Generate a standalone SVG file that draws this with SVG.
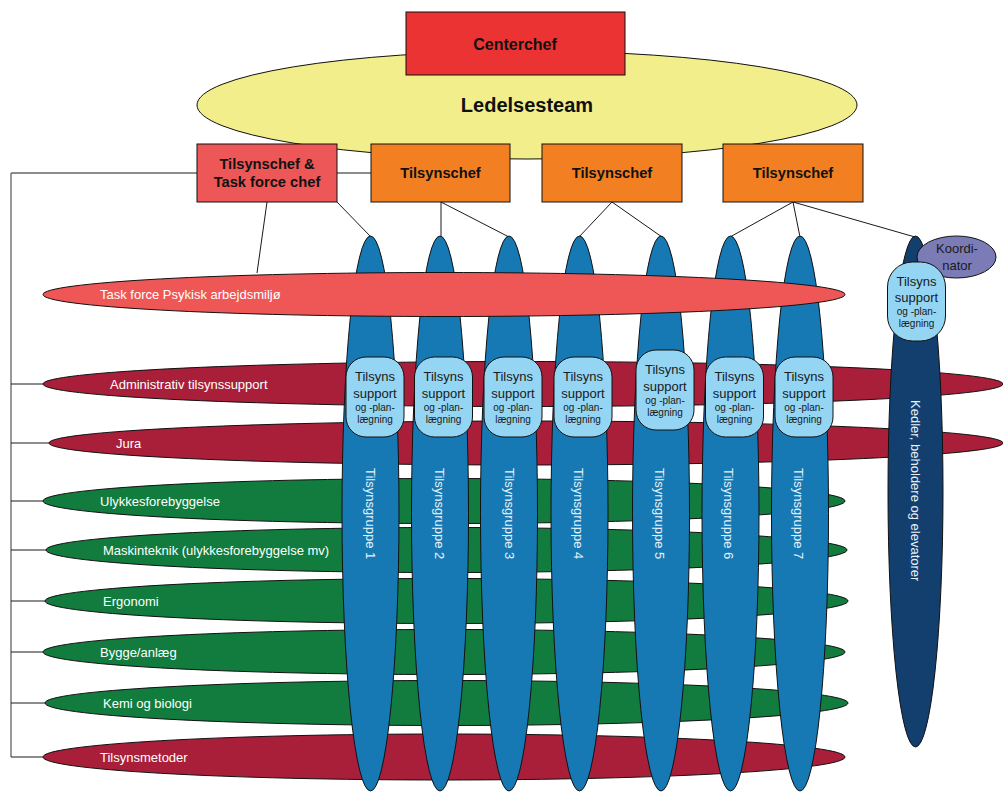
<svg xmlns="http://www.w3.org/2000/svg" width="1003" height="792" viewBox="0 0 1003 792">
  <style>
    .shape { stroke: #111; stroke-width: 1; }
    .lead { fill: #F2EE8B; }
    .center { fill: #EC3333; }
    .taskchef { fill: #EE5757; }
    .chef { fill: #F28022; }
    .crimson { fill: #A91F3A; }
    .green { fill: #127C3E; }
    .salmon { fill: #EF5757; }
    .group { fill: #1779B4; }
    .kedler { fill: #133F6E; }
    .coord { fill: #7B7BB6; }
    .support { fill: #93D5F3; }
    .link { stroke: #1a1a1a; stroke-width: 1; fill: none; }
    .rail { stroke: #777; stroke-width: 1.5; fill: none; }
    text { font-family: "Liberation Sans", Arial, sans-serif; }
    .bold { font-weight: bold; fill: #111; text-anchor: middle; }
    .bar { fill: #fff; font-size: 13px; }
    .vert { fill: #E6F2FA; font-size: 13px; }
    .sup1 { fill: #1a1a1a; font-size: 13px; text-anchor: middle; }
    .sup2 { fill: #1a1a1a; font-size: 10px; text-anchor: middle; }
  </style>

  <!-- management ellipse and head box -->
  <g id="ledelsesteam">
    <ellipse class="shape lead" cx="527" cy="105" rx="330" ry="54"/>
    <text class="bold" x="527" y="112" font-size="20">Ledelsesteam</text>
  </g>
  <g id="centerchef">
    <rect class="shape center" x="406" y="12" width="219" height="63"/>
    <text class="bold" x="515" y="50" font-size="16">Centerchef</text>
  </g>

  <!-- connectors -->
  <g id="connectors">
    <polyline class="link" points="11,173 371,173"/>
    <line class="rail" x1="11" y1="173" x2="11" y2="757"/>
    <line class="link" x1="11" y1="384" x2="43" y2="384"/>
    <line class="link" x1="11" y1="443" x2="49" y2="443"/>
    <line class="link" x1="11" y1="501" x2="43" y2="501"/>
    <line class="link" x1="11" y1="550" x2="46" y2="550"/>
    <line class="link" x1="11" y1="601" x2="45" y2="601"/>
    <line class="link" x1="11" y1="652" x2="43" y2="652"/>
    <line class="link" x1="11" y1="703" x2="45" y2="703"/>
    <line class="link" x1="11" y1="757" x2="43" y2="757"/>
    <line class="link" x1="267" y1="202" x2="257" y2="273"/>
    <line class="link" x1="337" y1="202" x2="371" y2="237"/>
    <line class="link" x1="441" y1="202" x2="441" y2="237"/>
    <line class="link" x1="441" y1="202" x2="509" y2="237"/>
    <line class="link" x1="612" y1="202" x2="579" y2="237"/>
    <line class="link" x1="612" y1="202" x2="662" y2="237"/>
    <line class="link" x1="793" y1="202" x2="730" y2="237"/>
    <line class="link" x1="793" y1="202" x2="800" y2="237"/>
    <line class="link" x1="793" y1="202" x2="915" y2="237"/>
  </g>

  <!-- supervisors -->
  <g id="tilsynschef-taskforce">
    <rect class="shape taskchef" x="197" y="144" width="140" height="58"/>
    <text class="bold" x="267" y="169" font-size="14.7">Tilsynschef &amp;</text>
    <text class="bold" x="267" y="187" font-size="14.7">Task force chef</text>
  </g>
  <g id="tilsynschef-1">
    <rect class="shape chef" x="371" y="144" width="139" height="58"/>
    <text class="bold" x="440.5" y="178" font-size="14.7">Tilsynschef</text>
  </g>
  <g id="tilsynschef-2">
    <rect class="shape chef" x="542" y="144" width="140" height="58"/>
    <text class="bold" x="612" y="178" font-size="14.7">Tilsynschef</text>
  </g>
  <g id="tilsynschef-3">
    <rect class="shape chef" x="723" y="144" width="140" height="58"/>
    <text class="bold" x="793" y="178" font-size="14.7">Tilsynschef</text>
  </g>

  <!-- horizontal competence areas -->
  <g id="administrativ">
    <ellipse class="shape crimson" cx="523" cy="384" rx="480" ry="22.5"/>
    <text class="bar" x="110" y="388.5">Administrativ tilsynssupport</text>
  </g>
  <g id="jura">
    <ellipse class="shape crimson" cx="526" cy="443" rx="477" ry="22"/>
    <text class="bar" x="116" y="447.5">Jura</text>
  </g>
  <g id="ulykkesforebyggelse">
    <ellipse class="shape green" cx="444" cy="501" rx="401" ry="22.5"/>
    <text class="bar" x="100" y="505.5">Ulykkesforebyggelse</text>
  </g>
  <g id="maskinteknik">
    <ellipse class="shape green" cx="446.5" cy="550" rx="400.5" ry="22.5"/>
    <text class="bar" x="103" y="554.5">Maskinteknik (ulykkesforebyggelse mv)</text>
  </g>
  <g id="ergonomi">
    <ellipse class="shape green" cx="446.5" cy="601" rx="401.5" ry="22.5"/>
    <text class="bar" x="103" y="605.5">Ergonomi</text>
  </g>
  <g id="bygge">
    <ellipse class="shape green" cx="444" cy="652" rx="401" ry="22.5"/>
    <text class="bar" x="100" y="656.5">Bygge/anlæg</text>
  </g>
  <g id="kemi">
    <ellipse class="shape green" cx="446.5" cy="703" rx="401.5" ry="22.5"/>
    <text class="bar" x="103" y="707.5">Kemi og biologi</text>
  </g>
  <g id="tilsynsmetoder">
    <ellipse class="shape crimson" cx="444" cy="757" rx="401" ry="23"/>
    <text class="bar" x="100" y="761.5">Tilsynsmetoder</text>
  </g>

  <!-- vertical inspection groups -->
  <g id="gruppe-1">
    <ellipse class="shape group" cx="370.5" cy="513.5" rx="28.5" ry="277.5"/>
    <text class="vert" transform="translate(371,468) rotate(90)" dy="0.35em">Tilsynsgruppe 1</text>
  </g>
  <g id="gruppe-2">
    <ellipse class="shape group" cx="440" cy="513.5" rx="28.5" ry="277.5"/>
    <text class="vert" transform="translate(440,468) rotate(90)" dy="0.35em">Tilsynsgruppe 2</text>
  </g>
  <g id="gruppe-3">
    <ellipse class="shape group" cx="509" cy="513.5" rx="28.5" ry="277.5"/>
    <text class="vert" transform="translate(510,468) rotate(90)" dy="0.35em">Tilsynsgruppe 3</text>
  </g>
  <g id="gruppe-4">
    <ellipse class="shape group" cx="579.5" cy="513.5" rx="28.5" ry="277.5"/>
    <text class="vert" transform="translate(579,468) rotate(90)" dy="0.35em">Tilsynsgruppe 4</text>
  </g>
  <g id="gruppe-5">
    <ellipse class="shape group" cx="661" cy="513.5" rx="28.5" ry="277.5"/>
    <text class="vert" transform="translate(660,468) rotate(90)" dy="0.35em">Tilsynsgruppe 5</text>
  </g>
  <g id="gruppe-6">
    <ellipse class="shape group" cx="730.5" cy="513.5" rx="28.5" ry="277.5"/>
    <text class="vert" transform="translate(729,468) rotate(90)" dy="0.35em">Tilsynsgruppe 6</text>
  </g>
  <g id="gruppe-7">
    <ellipse class="shape group" cx="800" cy="513.5" rx="28.5" ry="277.5"/>
    <text class="vert" transform="translate(799,468) rotate(90)" dy="0.35em">Tilsynsgruppe 7</text>
  </g>
  <g id="kedler">
    <ellipse class="shape kedler" cx="915.5" cy="491.5" rx="27.5" ry="255.5"/>
    <text class="vert" transform="translate(916,400) rotate(90)" dy="0.35em">Kedler, beholdere og elevatorer</text>
  </g>

  <!-- task force band -->
  <g id="taskforce">
    <ellipse class="shape salmon" cx="444" cy="294.5" rx="401" ry="22"/>
    <text class="bar" x="100" y="299">Task force Psykisk arbejdsmiljø</text>
  </g>

  <!-- coordinator -->
  <g id="koordinator">
    <ellipse class="shape coord" cx="956.5" cy="257" rx="39.5" ry="21"/>
    <text class="sup1" x="957" y="253">Koordi-</text>
    <text class="sup1" x="957" y="269.5">nator</text>
  </g>

  <!-- support and planning units -->
  <g id="support-1">
    <rect class="shape support" x="346" y="357" width="58" height="80" rx="20"/>
    <text class="sup1" x="375" y="381">Tilsyns</text>
    <text class="sup1" x="375" y="398">support</text>
    <text class="sup2" x="375" y="410.5">og -plan-</text>
    <text class="sup2" x="375" y="422.5">lægning</text>
  </g>
  <g id="support-2">
    <rect class="shape support" x="414.5" y="357" width="58" height="80" rx="20"/>
    <text class="sup1" x="443.5" y="381">Tilsyns</text>
    <text class="sup1" x="443.5" y="398">support</text>
    <text class="sup2" x="443.5" y="410.5">og -plan-</text>
    <text class="sup2" x="443.5" y="422.5">lægning</text>
  </g>
  <g id="support-3">
    <rect class="shape support" x="484" y="357" width="58" height="80" rx="20"/>
    <text class="sup1" x="513" y="381">Tilsyns</text>
    <text class="sup1" x="513" y="398">support</text>
    <text class="sup2" x="513" y="410.5">og -plan-</text>
    <text class="sup2" x="513" y="422.5">lægning</text>
  </g>
  <g id="support-4">
    <rect class="shape support" x="554" y="357" width="58" height="80" rx="20"/>
    <text class="sup1" x="583" y="381">Tilsyns</text>
    <text class="sup1" x="583" y="398">support</text>
    <text class="sup2" x="583" y="410.5">og -plan-</text>
    <text class="sup2" x="583" y="422.5">lægning</text>
  </g>
  <g id="support-5">
    <rect class="shape support" x="636" y="350" width="58" height="80" rx="20"/>
    <text class="sup1" x="665" y="374">Tilsyns</text>
    <text class="sup1" x="665" y="391">support</text>
    <text class="sup2" x="665" y="403.5">og -plan-</text>
    <text class="sup2" x="665" y="415.5">lægning</text>
  </g>
  <g id="support-6">
    <rect class="shape support" x="705.5" y="357" width="58" height="80" rx="20"/>
    <text class="sup1" x="734.5" y="381">Tilsyns</text>
    <text class="sup1" x="734.5" y="398">support</text>
    <text class="sup2" x="734.5" y="410.5">og -plan-</text>
    <text class="sup2" x="734.5" y="422.5">lægning</text>
  </g>
  <g id="support-7">
    <rect class="shape support" x="775" y="357" width="58" height="80" rx="20"/>
    <text class="sup1" x="804" y="381">Tilsyns</text>
    <text class="sup1" x="804" y="398">support</text>
    <text class="sup2" x="804" y="410.5">og -plan-</text>
    <text class="sup2" x="804" y="422.5">lægning</text>
  </g>
  <g id="support-kedler">
    <rect class="shape support" x="887.5" y="262" width="58" height="79" rx="25"/>
    <text class="sup1" x="916.5" y="286">Tilsyns</text>
    <text class="sup1" x="916.5" y="302">support</text>
    <text class="sup2" x="916.5" y="314.5">og -plan-</text>
    <text class="sup2" x="916.5" y="326.5">lægning</text>
  </g>
</svg>
